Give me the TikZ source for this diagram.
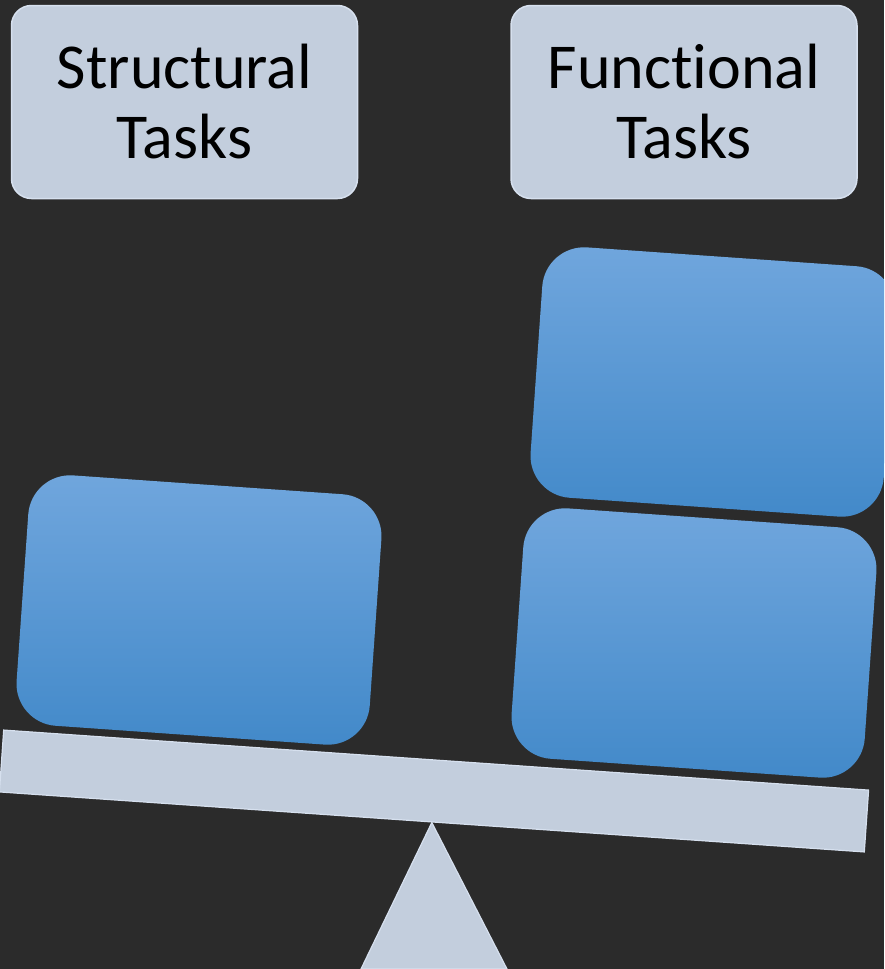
\documentclass[tikz,border=0pt]{standalone}
\usepackage{fontspec}
\setmainfont[Ligatures=NoCommon]{Carlito}
\usetikzlibrary{positioning, calc}
\definecolor{bgdark}{RGB}{43,43,43}
\definecolor{boxfill}{RGB}{195,206,221}
\definecolor{boxedge}{RGB}{214,224,238}
\definecolor{weighttop}{RGB}{112,166,221}
\definecolor{weightmid}{RGB}{86,156,220}
\definecolor{weightbot}{RGB}{66,137,201}

\begin{document}
\begin{tikzpicture}[x=1pt, y=-1pt,
  taskbox/.style={draw=boxedge, line width=1.5pt, fill=boxfill, rounded corners=20pt,
    minimum width=346pt, minimum height=193pt, align=center, text=black,
    font=\fontsize{64}{70}\selectfont},
  weight/.style={rectangle, rounded corners=42pt, minimum width=354pt, minimum height=251pt,
    rotate=-4, top color=weighttop, middle color=weightmid, bottom color=weightbot},
  plank/.style={draw=boxedge, line width=1.2pt, fill=boxfill, minimum width=867pt,
    minimum height=62pt, rotate=-3.97},
  support/.style={draw=boxedge, line width=1.2pt, fill=boxfill}]

  % background
  \fill[bgdark] (0,0) rectangle (884,969);
  \clip (0,0) rectangle (884,969);

  % Task labels
  \node[taskbox] (structural) at (184.5,102) {Structural\\Tasks};
  \node[taskbox] (functional) at (684,102) {Functional\\Tasks};

  % Weights
  \node[weight] (weightL) at (199,610) {};
  \node[weight] (weightRlow) at (694,643) {};
  \node[weight] (weightRup) at (713,382) {};

  % Seesaw
  \node[plank] (beam) at (434,791) {};
  \coordinate (baseL) at (361,969);
  \coordinate (baseR) at (507,969);
  \draw[support] (beam.south) -- (baseR) -- (baseL) -- cycle;
\end{tikzpicture}
\end{document}
